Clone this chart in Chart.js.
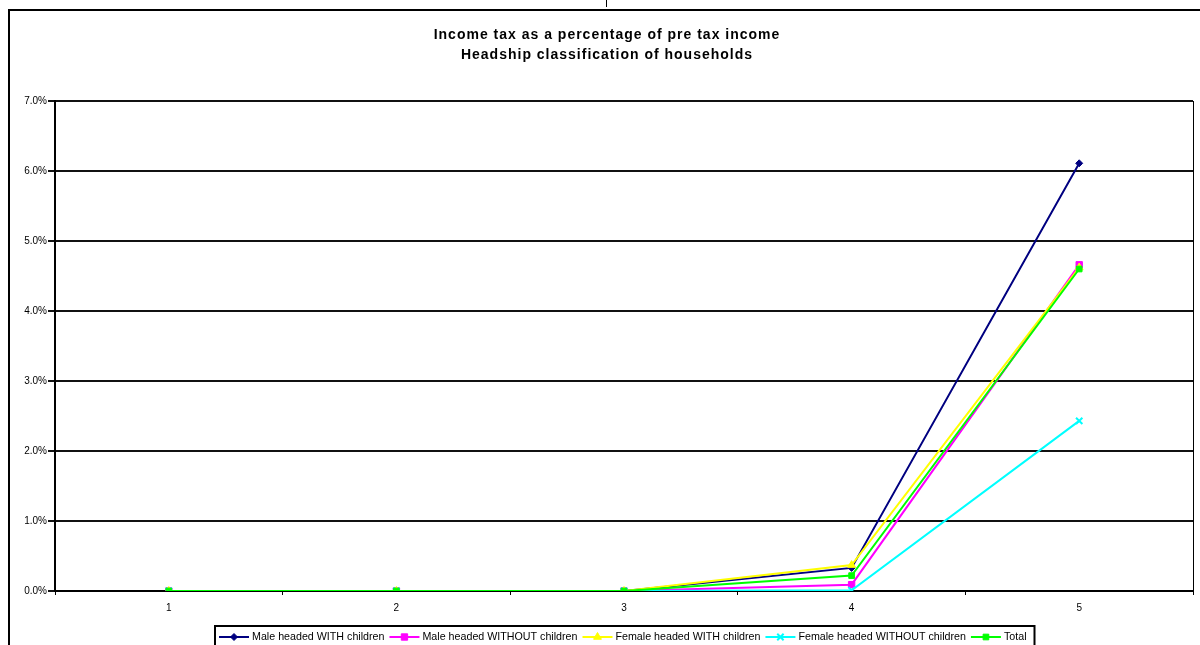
<!DOCTYPE html>
<html>
<head>
<meta charset="utf-8">
<title>Income tax as a percentage of pre tax income</title>
<script src="https://cdn.jsdelivr.net/npm/chart.js@4/dist/chart.umd.min.js"></script>
<style>
  html, body { margin: 0; padding: 0; background: #fff; }
  #wrap { position: relative; width: 1200px; height: 645px; overflow: hidden; }
  #frame { position: absolute; left: 8px; top: 9px; width: 1300px; height: 700px; border: 2px solid #000; box-sizing: border-box; }
  #stub { position: absolute; left: 606px; top: 0; width: 1px; height: 7px; background: #000; }
  #chart { position: absolute; left: 0; top: 0; }
</style>
</head>
<body>
<div id="wrap">
  <div id="frame"></div>
  <div id="stub"></div>
  <canvas id="chart" width="1200" height="645"></canvas>
</div>
<script>
// 所得階級（1〜5）
const categories = ['1', '2', '3', '4', '5'];

// 税率（%）
const maleWithChildren = [0, 0, 0, 0.33, 6.11];
const maleWithoutChildren = [0, 0, 0, 0.09, 4.66];
const femaleWithChildren = [0, 0, 0, 0.37, 4.62];
const femaleWithoutChildren = [0, 0, 0, 0.01, 2.43];
const total = [0, 0, 0, 0.22, 4.6];

const titleLines = [
    'Income tax as a percentage of pre tax income',
    'Headship classification of households'
];

const FONT = '"Liberation Sans", Arial, sans-serif';

// 系列定義（凡例の並び順）
const series = [
    { label: 'Male headed WITH children', data: maleWithChildren, color: '#000080', style: 'rectRot', radius: 3.5 },
    { label: 'Male headed WITHOUT children', data: maleWithoutChildren, color: '#ff00ff', style: 'rect', radius: 4.5 },
    { label: 'Female headed WITH children', data: femaleWithChildren, color: '#ffff00', style: 'triangle', radius: 4.5 },
    { label: 'Female headed WITHOUT children', data: femaleWithoutChildren, color: '#00ffff', style: 'crossRot', radius: 4.5 },
    { label: 'Total', data: total, color: '#00ff00', style: 'rect', radius: 4 }
];

/**
 * タイトル・凡例・プロット枠を描画するプラグイン
 */
const decorations = {
    id: 'decorations',
    afterDraw(chart) {
        const ctx = chart.ctx;
        const area = chart.chartArea;

        // プロットエリア右側の枠
        ctx.save();
        ctx.strokeStyle = '#000';
        ctx.lineWidth = 1;
        ctx.beginPath();
        ctx.moveTo(area.right + 0.5, area.top);
        ctx.lineTo(area.right + 0.5, area.bottom);
        ctx.stroke();
        ctx.restore();

        // タイトル（2行・字間あり）
        ctx.save();
        ctx.fillStyle = '#000';
        ctx.font = 'bold 14px ' + FONT;
        ctx.letterSpacing = '1px';
        ctx.textAlign = 'center';
        ctx.textBaseline = 'middle';
        ctx.fillText(titleLines[0], 607, 35);
        ctx.fillText(titleLines[1], 607, 55);
        ctx.restore();

        // 凡例（線＋マーカー）
        ctx.save();
        ctx.font = '10.7px ' + FONT;
        ctx.textBaseline = 'middle';
        const boxLeft = 215, boxTop = 626;
        const y = 637;
        let x = boxLeft + 4;
        const items = [];
        series.forEach(s => {
            const w = ctx.measureText(s.label).width;
            items.push({ s, x });
            x += 30 + 3 + w + 5;
        });
        const boxRight = x + 3;

        ctx.fillStyle = '#fff';
        ctx.fillRect(boxLeft, boxTop, boxRight - boxLeft, 30);
        ctx.strokeStyle = '#000';
        ctx.lineWidth = 2;
        ctx.strokeRect(boxLeft, boxTop, boxRight - boxLeft, 30);

        items.forEach(({ s, x }) => {
            ctx.strokeStyle = s.color;
            ctx.fillStyle = s.color;
            ctx.lineWidth = 2;
            ctx.beginPath();
            ctx.moveTo(x, y);
            ctx.lineTo(x + 30, y);
            ctx.stroke();
            ctx.lineWidth = s.style === 'crossRot' ? 2 : 1;
            Chart.helpers.drawPoint(ctx, {
                pointStyle: s.style,
                radius: s.radius,
                rotation: 0,
                borderWidth: ctx.lineWidth
            }, x + 15, y);
            ctx.fillStyle = '#000';
            ctx.fillText(s.label, x + 33, y);
        });
        ctx.restore();
    }
};

const datasets = series.map((s, i) => ({
    label: s.label,
    data: s.data,
    borderColor: s.color,
    backgroundColor: s.color,
    borderWidth: 2,
    pointStyle: s.style,
    pointRadius: s.radius,
    pointBorderWidth: s.style === 'crossRot' ? 2 : 1,
    pointHoverRadius: s.radius,
    tension: 0,
    // 後の系列ほど手前に描く
    order: series.length - 1 - i
}));

new Chart(document.getElementById('chart'), {
    type: 'line',
    data: { labels: categories, datasets },
    options: {
        responsive: false,
        animation: false,
        layout: { padding: { left: 0, right: 7, top: 101, bottom: 0 } },
        plugins: {
            legend: { display: false },
            title: { display: false },
            tooltip: { enabled: false }
        },
        scales: {
            x: {
                offset: true,
                grid: {
                    offset: true,
                    drawOnChartArea: false,
                    drawTicks: true,
                    tickLength: 4,
                    color: '#000',
                    lineWidth: 1
                },
                border: { color: '#000', width: 2 },
                ticks: {
                    color: '#000',
                    padding: 7,
                    font: { family: FONT, size: 10 },
                    maxRotation: 0
                },
                afterFit(scale) { scale.height = 54; }
            },
            y: {
                min: 0,
                max: 7,
                grid: {
                    color: '#111',
                    lineWidth: 2,
                    drawTicks: true,
                    tickLength: 7
                },
                border: { color: '#000', width: 2 },
                ticks: {
                    stepSize: 1,
                    color: '#000',
                    padding: 1,
                    font: { family: FONT, size: 10 },
                    callback: v => v.toFixed(1) + '%'
                },
                afterFit(scale) { scale.width = 55; }
            }
        }
    },
    plugins: [decorations]
});
</script>
</body>
</html>
